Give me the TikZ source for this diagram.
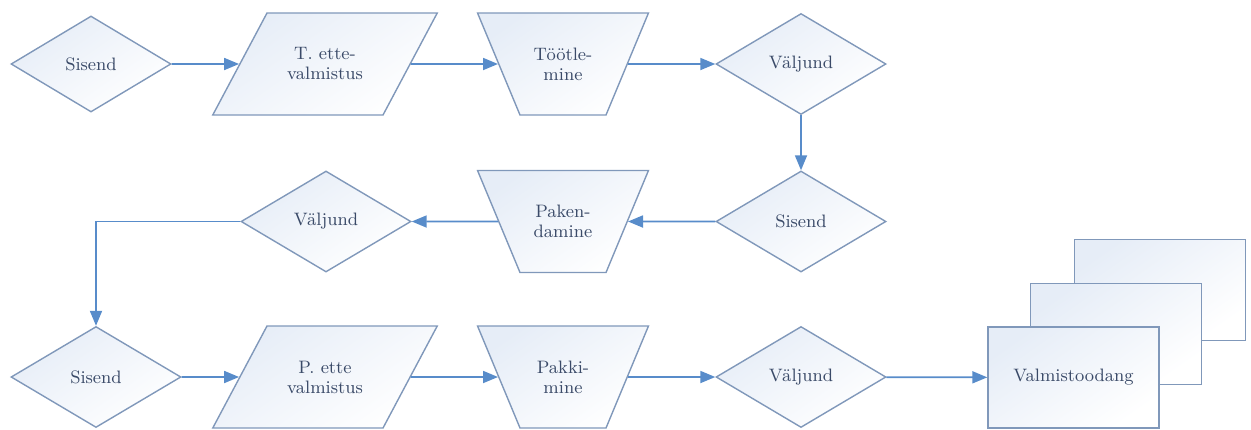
\documentclass[tikz,border=0pt]{standalone}
\usetikzlibrary{shapes.geometric, arrows.meta}
\definecolor{edgeblue}{RGB}{128,152,186}
\definecolor{fillblue}{RGB}{230,237,247}
\definecolor{arrowblue}{RGB}{88,140,202}
\definecolor{textblue}{RGB}{58,74,104}
% fixed text boxes for the slanted shapes
\newcommand{\prepbox}[1]{\parbox[c][51pt][c]{58pt}{\centering #1}}
\newcommand{\workbox}[1]{\parbox[c][51pt][c]{43pt}{\centering #1}}
\tikzset{
  box/.style={draw=edgeblue, line width=0.7pt, top color=fillblue, bottom color=white,
    shading angle=35, text=textblue, inner sep=0pt, align=center,
    font=\fontsize{9}{10}\selectfont},
  port/.style={box, diamond, minimum width=85pt, minimum height=50.5pt},
  prep/.style={box, trapezium, trapezium left angle=62, trapezium right angle=118},
  work/.style={box, trapezium, trapezium left angle=112.6, trapezium right angle=112.6},
  sheet/.style={box, rectangle, minimum width=85.5pt, minimum height=50.5pt},
  flow/.style={draw=arrowblue, line width=0.9pt, -{Triangle[length=7.5pt,width=6pt]}}
}
\begin{document}
\begin{tikzpicture}[x=0.5pt, y=0.5pt]
  \useasboundingbox (0,0) rectangle (1251,-429);
  % first row
  \node [port, minimum width=80pt, minimum height=48pt] (sis1) at (91,-64) {Sisend};
  \node [prep] (tprep) at (325,-64) {\prepbox{T. ette-\\valmistus}};
  \node [work] (proc) at (563,-64) {\workbox{Töötle-\\mine}};
  \node [port] (val1) at (801,-64) {Väljund};
  % second row
  \node [port] (sis2) at (801,-221.5) {Sisend};
  \node [work] (pack) at (563,-221.5) {\workbox{Paken-\\damine}};
  \node [port] (val2) at (326,-221.5) {Väljund};
  % third row
  \node [port] (sis3) at (96,-377) {Sisend};
  \node [prep] (pprep) at (325,-377) {\prepbox{P. ette\\valmistus}};
  \node [work] (wrap) at (563,-377) {\workbox{Pakki-\\mine}};
  \node [port] (val3) at (801,-377) {Väljund};
  \node [sheet] (back) at (1160,-290) {};
  \node [sheet] (mid) at (1116,-334) {};
  \node [sheet] (done) at (1073.5,-377.5) {Valmistoodang};
  % connectors
  \draw [flow] (sis1) -- (tprep);
  \draw [flow] (tprep) -- (proc);
  \draw [flow] (proc) -- (val1);
  \draw [flow] (val1) -- (sis2);
  \draw [flow] (sis2) -- (pack);
  \draw [flow] (pack) -- (val2);
  \draw [flow] (val2.west) -| (sis3.north);
  \draw [flow] (sis3) -- (pprep);
  \draw [flow] (pprep) -- (wrap);
  \draw [flow] (wrap) -- (val3);
  \draw [flow] (val3) -- (done);
\end{tikzpicture}
\end{document}
